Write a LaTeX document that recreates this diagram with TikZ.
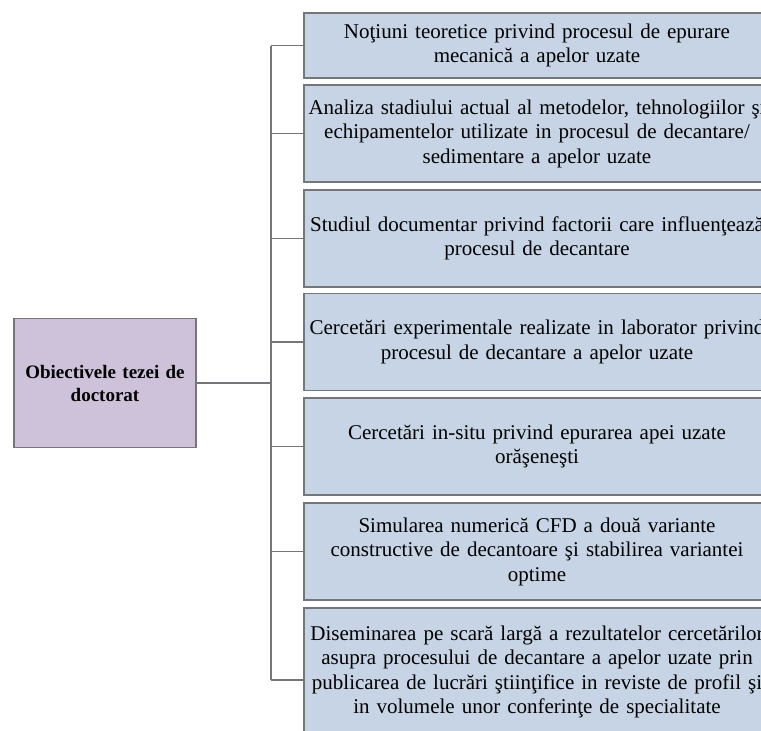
\documentclass[tikz,border=0pt]{standalone}
\usepackage{fontspec}
\setmainfont{Liberation Serif}
\definecolor{goalblue}{RGB}{198,212,229}
\definecolor{thesisviolet}{RGB}{206,194,219}
\definecolor{edgegray}{RGB}{118,118,122}
\tikzset{
  goal/.style={draw=edgegray, line width=1.4pt, fill=goalblue, text width=462pt,
    minimum width=466pt, align=center, inner sep=0pt,
    font=\fontsize{21}{24.5}\selectfont},
  thesis/.style={draw=edgegray, line width=1.4pt, fill=thesisviolet, text width=172pt,
    minimum width=182pt, minimum height=129pt, align=center, inner sep=0pt,
    font=\fontsize{19}{23}\selectfont\bfseries},
  link/.style={draw=edgegray, line width=1.2pt}
}
\begin{document}
\begin{tikzpicture}[x=1pt,y=-1pt]
  % Frame of the page (boxes run past the right and bottom edges)
  \clip (0,0) rectangle (761,731);
  \fill[white] (0,0) rectangle (761,731);

  % Root box
  \node[thesis] (thesis) at (105,383) {Obiectivele tezei de\\doctorat};

  % Objective boxes
  \node[goal, minimum height=65pt] (obj1) at (537,45.5)
    {Noţiuni teoretice privind procesul de epurare\\mecanică a apelor uzate};
  \node[goal, minimum height=97pt] (obj2) at (537,133.5)
    {Analiza stadiului actual al metodelor, tehnologiilor şi\\echipamentelor utilizate in procesul de decantare/\\sedimentare a apelor uzate};
  \node[goal, minimum height=97pt] (obj3) at (537,238.5)
    {Studiul documentar privind factorii care influenţează\\procesul de decantare};
  \node[goal, minimum height=97pt] (obj4) at (537,342)
    {Cercetări experimentale realizate in laborator privind\\procesul de decantare a apelor uzate};
  \node[goal, minimum height=97pt] (obj5) at (537,446.5)
    {Cercetări in-situ privind epurarea apei uzate\\orăşeneşti};
  \node[goal, minimum height=97pt] (obj6) at (537,551.5)
    {Simularea numerică CFD a două variante\\constructive de decantoare şi stabilirea variantei\\optime};
  \node[goal, minimum height=128pt] (obj7) at (537,672)
    {Diseminarea pe scară largă a rezultatelor cercetărilor\\asupra procesului de decantare a apelor uzate prin\\publicarea de lucrări ştiinţifice in reviste de profil şi\\in volumele unor conferinţe de specialitate};

  % Connectors
  \coordinate (trunk) at (271,383);
  \coordinate (lastlink) at (304,680);
  \draw[link] (thesis.east) -- (trunk);
  \draw[link] (obj1.west -| trunk) -- (lastlink -| trunk);
  \draw[link] (obj1.west) -- (obj1.west -| trunk);
  \draw[link] (obj2.west) -- (obj2.west -| trunk);
  \draw[link] (obj3.west) -- (obj3.west -| trunk);
  \draw[link] (obj4.west) -- (obj4.west -| trunk);
  \draw[link] (obj5.west) -- (obj5.west -| trunk);
  \draw[link] (obj6.west) -- (obj6.west -| trunk);
  \draw[link] (lastlink) -- (lastlink -| trunk);
\end{tikzpicture}
\end{document}
